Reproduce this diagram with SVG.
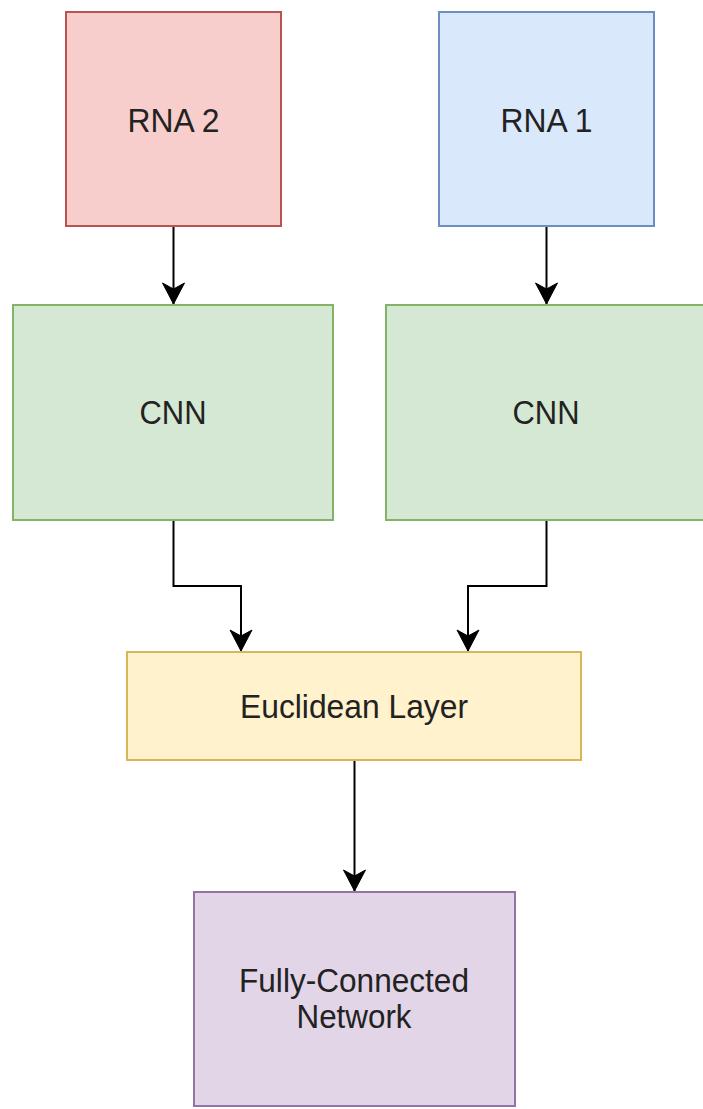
<svg xmlns="http://www.w3.org/2000/svg" width="703" height="1109" viewBox="0 0 703 1109">
<style>
.box{stroke-width:2}
.lbl{font-family:"Liberation Sans",Arial,sans-serif;font-size:33px;fill:#222;text-anchor:middle}
.edge{fill:none;stroke:#000;stroke-width:2}
</style>
<defs>
<marker id="arr" markerUnits="userSpaceOnUse" markerWidth="24" markerHeight="26" viewBox="-1 -12 24 24" refX="21" refY="0" orient="auto">
<path d="M0,-11 L21,0 L0,11 L6,0 Z" fill="#000" stroke="#000" stroke-width="1"/>
</marker>
</defs>
<rect width="703" height="1109" fill="#fff"/>
<g id="connectors">
<path class="edge" d="M173.5,227 L173.5,304" marker-end="url(#arr)"/>
<path class="edge" d="M546.5,227 L546.5,304" marker-end="url(#arr)"/>
<path class="edge" d="M173.5,520 L173.5,586 L241,586 L241,651" marker-end="url(#arr)"/>
<path class="edge" d="M546.5,520 L546.5,586 L468,586 L468,651" marker-end="url(#arr)"/>
<path class="edge" d="M354.5,760 L354.5,891" marker-end="url(#arr)"/>
</g>
<g id="rna2">
<rect class="box" x="66" y="12" width="215" height="214" fill="#f8cecc" stroke="#b85450"/>
<text class="lbl" x="173.5" y="132" textLength="92" lengthAdjust="spacingAndGlyphs">RNA 2</text>
</g>
<g id="rna1">
<rect class="box" x="439" y="12" width="215" height="214" fill="#dae8fc" stroke="#6c8ebf"/>
<text class="lbl" x="546.5" y="132" textLength="92" lengthAdjust="spacingAndGlyphs">RNA 1</text>
</g>
<g id="cnn_left">
<rect class="box" x="13" y="305" width="320" height="215" fill="#d5e8d4" stroke="#82b366"/>
<text class="lbl" x="173" y="424" textLength="67" lengthAdjust="spacingAndGlyphs">CNN</text>
</g>
<g id="cnn_right">
<rect class="box" x="386" y="305" width="320" height="215" fill="#d5e8d4" stroke="#82b366"/>
<text class="lbl" x="546" y="424" textLength="67" lengthAdjust="spacingAndGlyphs">CNN</text>
</g>
<g id="euclidean">
<rect class="box" x="127" y="652" width="454" height="108" fill="#fff2cc" stroke="#d6b656"/>
<text class="lbl" x="354" y="718" textLength="228" lengthAdjust="spacingAndGlyphs">Euclidean Layer</text>
</g>
<g id="fc">
<rect class="box" x="194" y="892" width="321" height="214" fill="#e1d5e7" stroke="#9673a6"/>
<text class="lbl" x="354" y="992" textLength="230" lengthAdjust="spacingAndGlyphs">Fully-Connected</text>
<text class="lbl" x="354" y="1028" textLength="115" lengthAdjust="spacingAndGlyphs">Network</text>
</g>
</svg>
